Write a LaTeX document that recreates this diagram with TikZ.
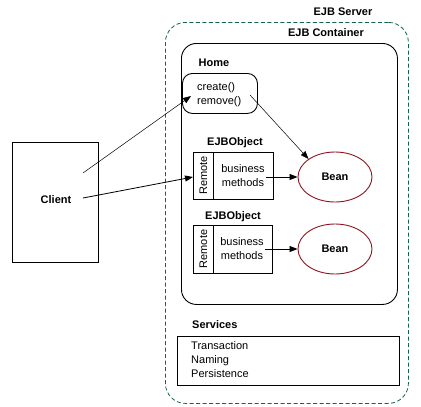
\documentclass[tikz,border=0pt]{standalone}
\usepackage{fontspec}
\setmainfont{Liberation Sans}
\usetikzlibrary{arrows.meta,shapes.geometric}
\definecolor{srvgreen}{RGB}{20,100,70}
\definecolor{beanred}{RGB}{140,20,30}
\begin{document}
\begin{tikzpicture}[x=1pt,y=-1pt,
  every node/.style={font=\fontsize{11}{14}\selectfont},
  lbl/.style={font=\fontsize{11}{14}\selectfont\bfseries},
  box/.style={draw,line width=0.9pt,rectangle,inner sep=0pt,anchor=north west},
  bean/.style={draw=beanred,line width=0.9pt,ellipse,minimum width=74pt,minimum height=50pt,inner sep=0pt,font=\fontsize{11}{14}\selectfont\bfseries},
  arr/.style={-{Triangle[length=8pt,width=6pt]},line width=0.8pt},
  thinarr/.style={-{Triangle[length=8pt,width=6pt]},line width=0.5pt}]
\useasboundingbox (0,0) rectangle (421,407);
% server
\node[box,draw=srvgreen,dash pattern=on 4pt off 2.5pt,rounded corners=20pt,line width=0.8pt,minimum width=243pt,minimum height=381pt] (server) at (165,22) {};
\node[lbl] (serverlbl) at (343,12) {EJB Server};
% container
\node[box,rounded corners=15pt,minimum width=216pt,minimum height=261pt] (container) at (181,43) {};
\node[lbl] (containerlbl) at (326,33) {EJB Container};
% home
\node[lbl] (homelbl) at (214,63) {Home};
\node[box,rounded corners=10pt,minimum width=75pt,minimum height=40pt] (home) at (182,73) {};
\node[anchor=west,align=left,inner sep=0pt] (homemeth) at (197,94.5) {create()\\remove()};
% EJBObject 1
\node[lbl] (obj1lbl) at (235,143) {EJBObject};
\node[box,minimum width=80pt,minimum height=47pt] (obj1) at (193,152) {};
\draw[line width=0.9pt] (213,152) -- (213,199);
\node[rotate=90,inner sep=0pt] (rem1) at (203.5,175.5) {Remote};
\node[align=center,inner sep=0pt] (bm1) at (243,175.5) {business\\methods};
\node[bean] (bean1) at (335,177) {Bean};
% EJBObject 2
\node[lbl] (obj2lbl) at (233,217) {EJBObject};
\node[box,minimum width=79pt,minimum height=48pt] (obj2) at (193,225) {};
\draw[line width=0.9pt] (213,225) -- (213,273);
\node[rotate=90,inner sep=0pt] (rem2) at (203.5,249) {Remote};
\node[align=center,inner sep=0pt] (bm2) at (242,249) {business\\methods};
\node[bean] (bean2) at (335,249) {Bean};
% services
\node[lbl,anchor=west,inner sep=0pt] (srvlbl) at (192,325) {Services};
\node[box,minimum width=222pt,minimum height=49pt] (services) at (177,336) {};
\node[anchor=west,align=left,inner sep=0pt] (srvlist) at (191,360) {Transaction\\Naming\\Persistence};
% client
\node[box,minimum width=86pt,minimum height=120pt] (client) at (12,142) {};
\node[lbl] (clientlbl) at (56,200) {Client};
\coordinate (c1) at (83,173);
\coordinate (c2) at (83,198);
\coordinate (h1) at (191,96);
\coordinate (h2) at (250,95);
\coordinate (o1) at (193,177);
% connectors
\draw[thinarr] (c1) -- (h1);
\draw[arr] (c2) -- (o1);
\draw[thinarr] (h2) -- (bean1.north west);
\draw[arr] ([xshift=1pt]bm1.east|-bean1.west) -- (bean1.west);
\draw[arr] ([xshift=1pt]bm2.east|-bean2.west) -- (bean2.west);
\end{tikzpicture}
\end{document}
